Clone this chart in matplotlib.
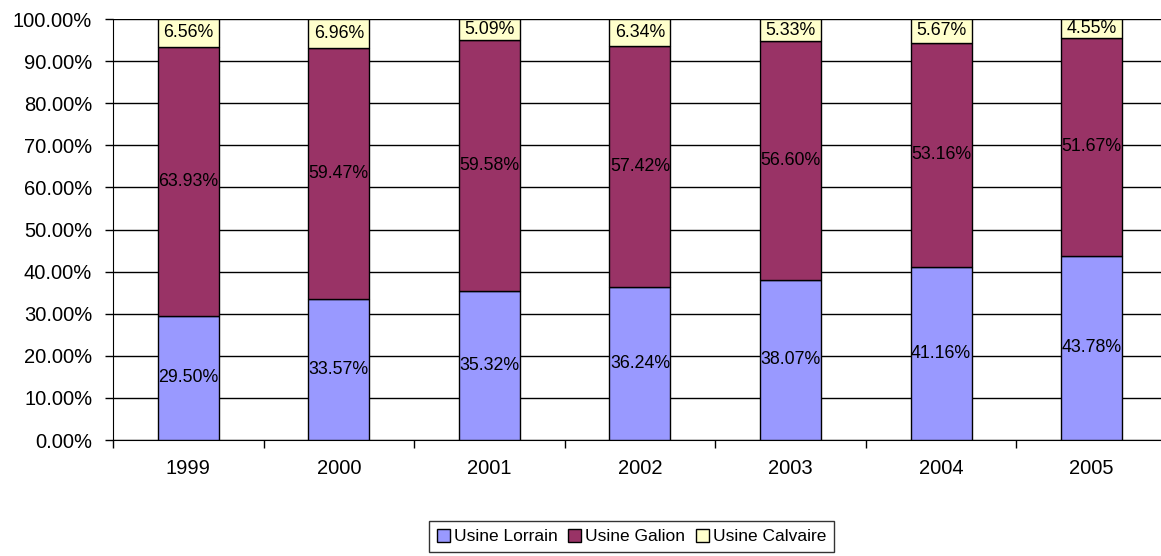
import matplotlib.pyplot as plt
import numpy as np

plt.rcParams['font.family'] = ['Liberation Sans', 'DejaVu Sans']

years = ['1999', '2000', '2001', '2002', '2003', '2004', '2005']
lorrain = [29.50, 33.57, 35.32, 36.24, 38.07, 41.16, 43.78]
galion = [63.93, 59.47, 59.58, 57.42, 56.60, 53.16, 51.67]
calvaire = [6.56, 6.96, 5.09, 6.34, 5.33, 5.67, 4.55]

fig = plt.figure(figsize=(11.61, 5.56), dpi=100)
# plot area runs a little past the right edge of the image, like the original
ax = fig.add_axes([0.0973, 0.2086, 0.9078, 0.7572])

x = np.arange(len(years))
w = 0.405
lor = np.array(lorrain)
gal = np.array(galion)
cal = np.array(calvaire)

b1 = ax.bar(x, lor, w, color='#9999FF', edgecolor='black', linewidth=1, label='Usine Lorrain', zorder=3)
b2 = ax.bar(x, gal, w, bottom=lor, color='#993366', edgecolor='black', linewidth=1, label='Usine Galion', zorder=3)
b3 = ax.bar(x, cal, w, bottom=lor + gal, color='#FFFFCC', edgecolor='black', linewidth=1, label='Usine Calvaire', zorder=3)

for i in range(len(years)):
    ax.text(x[i], lor[i] / 2, f'{lor[i]:.2f}%', ha='center', va='center', fontsize=12.8, zorder=4)
    ax.text(x[i], lor[i] + gal[i] / 2, f'{gal[i]:.2f}%', ha='center', va='center', fontsize=12.8, zorder=4)
    ax.text(x[i], lor[i] + gal[i] + cal[i] / 2, f'{cal[i]:.2f}%', ha='center', va='center', fontsize=12.8, zorder=4)

ax.set_xlim(-0.5, len(years) - 0.5)
ax.set_ylim(0, 100)
ax.set_yticks(np.arange(0, 101, 10))
ax.set_yticklabels([f'{v:.2f}%' for v in np.arange(0, 101, 10)], fontsize=14.5)
ax.yaxis.grid(True, color='black', linewidth=1, zorder=0)
ax.set_axisbelow(True)

ax.set_xticks(x)
ax.set_xticklabels(years, fontsize=14.5)
ax.tick_params(axis='x', length=0, pad=14)
ax.set_xticks(np.arange(-0.5, len(years)), minor=True)
ax.tick_params(axis='x', which='minor', length=6, width=1, color='black')
ax.tick_params(axis='y', length=6, width=1, pad=9)

for s in ['top', 'right']:
    ax.spines[s].set_visible(False)
ax.spines['left'].set_color('black')
ax.spines['bottom'].set_color('black')

leg = fig.legend(handles=[b1, b2, b3], loc='center', bbox_to_anchor=(0.544, 0.035), ncol=3,
                 fontsize=12.5, frameon=True, fancybox=False, edgecolor='black',
                 handlelength=0.75, handleheight=0.75, handletextpad=0.25, columnspacing=0.6,
                 borderpad=0.45, borderaxespad=0)
leg.get_frame().set_linewidth(1)

fig.savefig('out.png', dpi=100)
